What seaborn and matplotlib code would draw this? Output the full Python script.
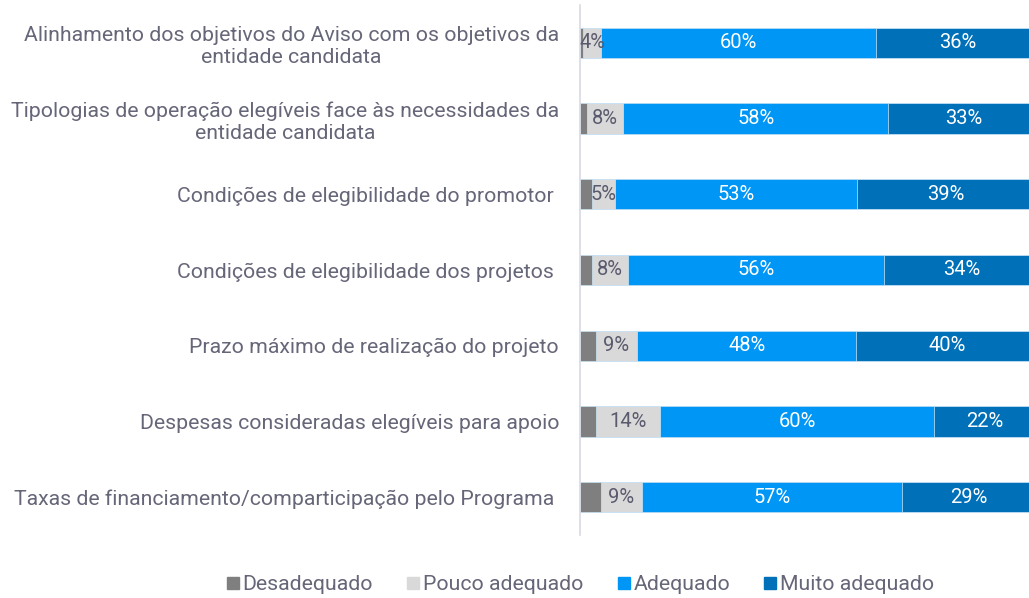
import numpy as np
import pandas as pd
import seaborn as sns
import matplotlib.pyplot as plt
from matplotlib.lines import Line2D

categories = [
    "Alinhamento dos objetivos do Aviso com os objetivos da\nentidade candidata",
    "Tipologias de operação elegíveis face às necessidades da\nentidade candidata",
    "Condições de elegibilidade do promotor ",
    "Condições de elegibilidade dos projetos ",
    "Prazo máximo de realização do projeto",
    "Despesas consideradas elegíveis para apoio",
    "Taxas de financiamento/comparticipação pelo Programa ",
]
desadequado = [0.7, 1.5, 2.6, 2.6, 3.5, 3.6, 4.6]
pouco = [4, 8, 5, 8, 9, 14, 9]
adequado = [60, 58, 53, 56, 48, 60, 57]
muito = [36, 33, 39, 34, 40, 22, 29]

series = ["Desadequado", "Pouco adequado", "Adequado", "Muito adequado"]
colors = ["#7f7f7f", "#d9d9d9", "#0096f5", "#0070b9"]
text_col = "#666679"

df = pd.DataFrame({"cat": categories, "Desadequado": desadequado,
                   "Pouco adequado": pouco, "Adequado": adequado,
                   "Muito adequado": muito})

sns.set_style("white")
plt.rcParams["font.family"] = ["Roboto", "DejaVu Sans"]

fig = plt.figure(figsize=(10.29, 5.98), dpi=100)
ax = fig.add_axes([0.5636, 0.105, 0.4364, 0.887])

cum = df[series].cumsum(axis=1)
# draw from the full stack down so smaller segments sit on top
for s, c in reversed(list(zip(series, colors))):
    sns.barplot(x=cum[s], y=df["cat"], orient="h", color=c, width=0.4,
                saturation=1, edgecolor="#cfe6f7", linewidth=0.5, ax=ax)

# value labels (skip Desadequado)
for i in range(len(categories)):
    left = 0
    for s in series:
        v = df.loc[i, s]
        if s != "Desadequado":
            col = "#5a5a6e" if s == "Pouco adequado" else "white"
            ax.text(left + v / 2, i, f"{int(round(v))}%", ha="center",
                    va="center", fontsize=14.5, color=col)
        left += v

# bars run slightly past the right edge in the original
ax.set_xlim(0, 98.3)
ax.set_ylim(6.5, -0.5)
ax.set_xlabel("")
ax.set_ylabel("")
ax.set_xticks([])
for side in ["top", "right", "bottom"]:
    ax.spines[side].set_visible(False)
ax.spines["left"].set_color("#d9d9e0")
ax.spines["left"].set_linewidth(1.2)
ax.tick_params(axis="y", length=0, pad=15, labelsize=15.3, labelcolor=text_col)
for lbl in ax.get_yticklabels():
    lbl.set_multialignment("center")
    lbl.set_linespacing(1.25)

handles = [Line2D([], [], marker="s", linestyle="", markersize=9,
                  markerfacecolor=c, markeredgecolor=c) for c in colors]
fig.legend(handles, series, loc="center", bbox_to_anchor=(0.563, 0.022),
           ncol=4, frameon=False, fontsize=15.3, labelcolor=text_col,
           handletextpad=0.05, columnspacing=1.5, handlelength=0.8)

fig.savefig("out.png", dpi=100)
